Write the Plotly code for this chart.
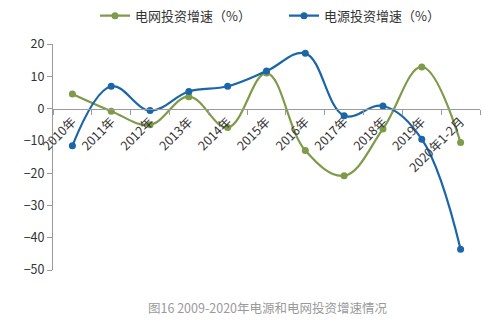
import plotly.graph_objects as go

categories = ["2010年", "2011年", "2012年", "2013年", "2014年", "2015年",
              "2016年", "2017年", "2018年", "2019年", "2020年1-2月"]
grid_growth = [4.5, -0.8, -5.0, 3.7, -5.9, 11.0, -13.0, -20.8, -6.3, 12.9, -10.5]
power_growth = [-11.5, 6.9, -0.6, 5.3, 6.9, 11.6, 17.1, -2.2, 0.8, -9.5, -43.6]

y_min, y_max = -50, 20
font_family = "Noto Sans CJK SC, DejaVu Sans, sans-serif"

fig = go.Figure()
fig.add_trace(go.Scatter(
    x=categories, y=grid_growth, name="电网投资增速（%）",
    mode="lines+markers", line=dict(color="#7F9A48", width=2.2, shape="spline", smoothing=1.1),
    marker=dict(size=7, color="#7F9A48"),
))
fig.add_trace(go.Scatter(
    x=categories, y=power_growth, name="电源投资增速（%）",
    mode="lines+markers", line=dict(color="#1A66A8", width=2.2, shape="spline", smoothing=1.1),
    marker=dict(size=7, color="#1A66A8"),
))

fig.update_layout(
    width=484, height=323,
    margin=dict(l=53, r=4, t=44, b=53, autoexpand=False),
    paper_bgcolor="white", plot_bgcolor="white",
    font=dict(family=font_family, size=12, color="#333333"),
    showlegend=True,
    legend=dict(orientation="h", x=(100 - 53 - 5) / 427, xanchor="left", y=1.125, yanchor="middle",
                font=dict(size=13, color="#333333"), itemwidth=30,
                entrywidth=144, entrywidthmode="pixels",
                bgcolor="rgba(0,0,0,0)"),
    xaxis=dict(
        type="category", anchor="free", position=(0 - y_min) / (y_max - y_min),
        showline=True, linecolor="#9a9a9a", linewidth=1,
        ticks="outside", ticklen=5, tickcolor="#9a9a9a", tickson="boundaries",
        tickangle=-45, showgrid=False, zeroline=False,
        tickfont=dict(size=12.5, color="#333333"),
        range=[-0.5, len(categories) - 0.5],
    ),
    yaxis=dict(
        range=[y_min, y_max], dtick=10, showgrid=False, zeroline=False,
        showline=True, linecolor="#9a9a9a", linewidth=1,
        ticks="outside", ticklen=5, tickcolor="#9a9a9a",
        tickfont=dict(size=12.5, color="#333333"),
    ),
    annotations=[dict(
        text="图16 2009-2020年电源和电网投资增速情况",
        xref="paper", yref="paper", x=0.503, y=-0.164,
        xanchor="center", yanchor="middle", showarrow=False,
        font=dict(size=12.5, color="#9a9a9a", family=font_family),
    )],
)

fig.write_html("out.html")
